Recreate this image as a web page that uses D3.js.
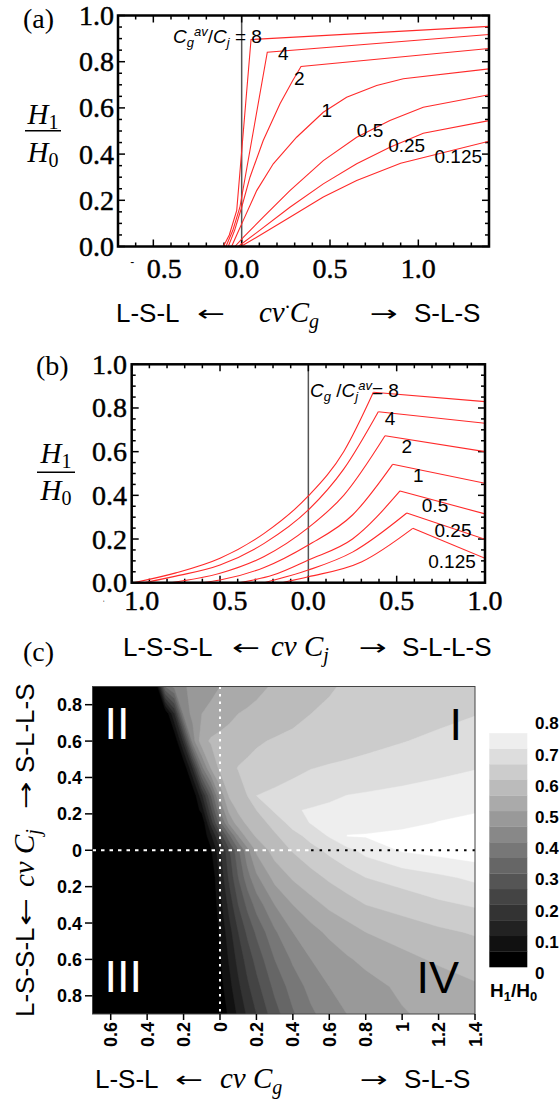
<!DOCTYPE html>
<html>
<head>
<meta charset="utf-8">
<script src="https://cdn.jsdelivr.net/npm/d3@7"></script>
<style>
  body { margin: 0; background: #fff; }
  text { fill: #000; }
  .serif { font-family: "Liberation Serif", "Times New Roman", serif; }
  .sans { font-family: "Liberation Sans", Arial, sans-serif; }
  .tick { stroke: #000; stroke-width: 0.45px; }
</style>
</head>
<body>
<svg id="fig" width="559" height="1099"></svg>
<script>
// ---- panel (a): H1/H0 vs cv.Cg, one curve per Cg_av/Cj ratio
const ratiosA = ['8', '4', '2', '1', '0.5', '0.25', '0.125'];
const curveA8 = [[-0.104, 0], [-0.07, 0.05], [-0.028, 0.156], [0.053, 0.896], [1.4, 0.953]];
const curveA4 = [[-0.089, 0], [-0.05, 0.07], [-0.01, 0.17], [0.145, 0.841], [1.4, 0.918]];
const curveA2 = [[-0.076, 0], [-0.04, 0.07], [0, 0.17], [0.047, 0.3], [0.122, 0.459], [0.217, 0.618], [0.29, 0.72], [0.336, 0.779], [1.4, 0.857]];
const curveA1 = [[-0.057, 0], [-0.025, 0.055], [0.009, 0.113], [0.085, 0.242], [0.179, 0.358], [0.311, 0.473], [0.462, 0.581], [0.594, 0.646], [0.764, 0.697], [0.915, 0.726], [1.4, 0.769]];
const curveA05 = [[-0.038, 0], [0.009, 0.04], [0.122, 0.127], [0.273, 0.242], [0.462, 0.372], [0.651, 0.473], [0.839, 0.545], [1.028, 0.603], [1.4, 0.657]];
const curveA025 = [[-0.02, 0], [0.085, 0.06], [0.273, 0.17], [0.462, 0.271], [0.651, 0.358], [0.839, 0.43], [1.028, 0.49], [1.4, 0.545]];
const curveA0125 = [[-0.005, 0], [0.085, 0.04], [0.273, 0.127], [0.462, 0.214], [0.651, 0.286], [0.9, 0.36], [1.4, 0.456]];

// ---- panel (b): H1/H0 vs cv.Cj, one curve per Cg/Cj_av ratio
const ratiosB = ['8', '4', '2', '1', '0.5', '0.25', '0.125'];
const curveB8 = [[-0.99, 0], [-0.75, 0.045], [-0.5, 0.112], [-0.25, 0.226], [0, 0.397], [0.2, 0.6], [0.368, 0.872], [1, 0.829]];
const curveB4 = [[-0.93, 0], [-0.75, 0.03], [-0.5, 0.081], [-0.25, 0.18], [0, 0.333], [0.2, 0.52], [0.396, 0.783], [1, 0.73]];
const curveB2 = [[-0.78, 0], [-0.5, 0.043], [-0.25, 0.12], [0, 0.252], [0.2, 0.4], [0.434, 0.673], [1, 0.6]];
const curveB1 = [[-0.6, 0], [-0.5, 0.012], [-0.25, 0.07], [0, 0.173], [0.25, 0.31], [0.477, 0.542], [1, 0.455]];
const curveB05 = [[-0.39, 0], [-0.2, 0.035], [0, 0.104], [0.25, 0.2], [0.519, 0.42], [1, 0.315]];
const curveB025 = [[-0.25, 0], [0, 0.058], [0.25, 0.14], [0.557, 0.319], [1, 0.199]];
const curveB0125 = [[-0.15, 0], [0, 0.027], [0.3, 0.095], [0.591, 0.249], [1, 0.112]];

// ---- panel (c): H1/H0, rows = cv.Cj, columns = cv.Cg
const gridCg = [-0.7, -0.4, -0.35, -0.3, -0.25, -0.2, -0.15, -0.1, -0.05, 0, 0.05, 0.1, 0.15, 0.2, 0.3, 0.4, 0.5, 0.6, 0.7, 0.8, 1.0, 1.2, 1.4];
const gridCj = [0.9, 0.75, 0.6, 0.45, 0.3, 0.22, 0.15, 0.08, 0, -0.15, -0.3, -0.45, -0.6, -0.75, -0.9];
const h1h0 = [
  [0, 0, 0, 0.35, 0.42, 0.445, 0.46, 0.474, 0.487, 0.5, 0.51, 0.519, 0.529, 0.538, 0.556, 0.569, 0.583, 0.597, 0.604, 0.609, 0.619, 0.63, 0.64],
  [0, 0, 0, 0, 0.15, 0.417, 0.464, 0.5, 0.512, 0.525, 0.537, 0.55, 0.556, 0.562, 0.575, 0.587, 0.6, 0.605, 0.611, 0.616, 0.627, 0.637, 0.648],
  [0, 0, 0, 0, 0, 0.163, 0.425, 0.533, 0.556, 0.564, 0.572, 0.58, 0.588, 0.595, 0.604, 0.611, 0.617, 0.623, 0.629, 0.635, 0.648, 0.66, 0.672],
  [0, 0, 0, 0, 0, 0, 0.15, 0.38, 0.5, 0.562, 0.586, 0.602, 0.608, 0.614, 0.626, 0.637, 0.649, 0.655, 0.66, 0.666, 0.676, 0.687, 0.698],
  [0, 0, 0, 0, 0, 0, 0, 0.138, 0.3, 0.463, 0.555, 0.577, 0.6, 0.65, 0.66, 0.671, 0.681, 0.692, 0.701, 0.705, 0.713, 0.722, 0.73],
  [0, 0, 0, 0, 0, 0, 0, 0.067, 0.233, 0.4, 0.513, 0.558, 0.579, 0.6, 0.658, 0.696, 0.704, 0.709, 0.713, 0.718, 0.727, 0.736, 0.745],
  [0, 0, 0, 0, 0, 0, 0, 0, 0.167, 0.329, 0.46, 0.527, 0.559, 0.576, 0.617, 0.671, 0.703, 0.71, 0.717, 0.724, 0.738, 0.752, 0.765],
  [0, 0, 0, 0, 0, 0, 0, 0, 0.089, 0.213, 0.338, 0.45, 0.523, 0.557, 0.593, 0.631, 0.668, 0.705, 0.752, 0.754, 0.761, 0.768, 0.775],
  [0, 0, 0, 0, 0, 0, 0, 0, 0.04, 0.14, 0.24, 0.34, 0.433, 0.51, 0.571, 0.604, 0.633, 0.661, 0.687, 0.715, 0.755, 0.768, 0.78],
  [0, 0, 0, 0, 0, 0, 0, 0, 0, 0.11, 0.21, 0.3, 0.379, 0.439, 0.517, 0.556, 0.583, 0.608, 0.629, 0.65, 0.67, 0.69, 0.71],
  [0, 0, 0, 0, 0, 0, 0, 0, 0, 0.08, 0.167, 0.25, 0.313, 0.37, 0.45, 0.5, 0.533, 0.56, 0.58, 0.6, 0.62, 0.64, 0.655],
  [0, 0, 0, 0, 0, 0, 0, 0, 0, 0.057, 0.129, 0.2, 0.26, 0.309, 0.392, 0.45, 0.483, 0.51, 0.53, 0.55, 0.57, 0.59, 0.605],
  [0, 0, 0, 0, 0, 0, 0, 0, 0, 0.044, 0.106, 0.167, 0.22, 0.267, 0.35, 0.408, 0.45, 0.473, 0.495, 0.511, 0.537, 0.557, 0.57],
  [0, 0, 0, 0, 0, 0, 0, 0, 0, 0.03, 0.083, 0.139, 0.19, 0.233, 0.313, 0.372, 0.417, 0.45, 0.467, 0.483, 0.509, 0.527, 0.545],
  [0, 0, 0, 0, 0, 0, 0, 0, 0, 0.01, 0.06, 0.11, 0.158, 0.2, 0.279, 0.344, 0.391, 0.424, 0.451, 0.466, 0.496, 0.514, 0.53]
];
const levels = [0.05, 0.1, 0.15, 0.2, 0.25, 0.3, 0.35, 0.4, 0.45, 0.5, 0.55, 0.6, 0.65, 0.7, 0.75];
const barTicks = [0, 0.1, 0.2, 0.3, 0.4, 0.5, 0.6, 0.7, 0.8];

const curvesA = [curveA8, curveA4, curveA2, curveA1, curveA05, curveA025, curveA0125];
const curvesB = [curveB8, curveB4, curveB2, curveB1, curveB05, curveB025, curveB0125];

const svg = d3.select('#fig');
const red = '#ff2a2a';
const gray = k => { const g = Math.round(255 * k / 15); return 'rgb(' + g + ',' + g + ',' + g + ')'; };

function rich(sel, parts) {
  parts.forEach(function(p) {
    const t = sel.append('tspan').text(p.t);
    if (p.size) t.attr('font-size', p.size);
    if (p.it) t.attr('font-style', 'italic');
    if (p.dy) t.attr('dy', p.dy);
    if (p.cls) t.attr('class', p.cls);
  });
  return sel;
}

// frame with inward ticks on all sides (Mathematica style)
function frame(x, y, zeroLine) {
  const [x0, x1] = x.range(), [y0, y1] = y.range();
  const g = svg.append('g');
  if (zeroLine) {
    g.append('line').attr('x1', x(0)).attr('x2', x(0)).attr('y1', y0).attr('y2', y1)
      .attr('stroke', '#555').attr('stroke-width', 1.5);
  }
  const xMaj = x.ticks(4), yMaj = y.ticks(5);
  const isMaj = (arr, v) => arr.some(m => Math.abs(m - v) < 1e-9);
  const tk = g.append('g').attr('stroke', '#000').attr('stroke-width', 1.5);
  x.ticks(20).forEach(function(v) {
    const L = isMaj(xMaj, v) ? 7 : 4;
    tk.append('line').attr('x1', x(v)).attr('x2', x(v)).attr('y1', y0).attr('y2', y0 - L);
    tk.append('line').attr('x1', x(v)).attr('x2', x(v)).attr('y1', y1).attr('y2', y1 + L);
  });
  y.ticks(20).forEach(function(v) {
    const L = isMaj(yMaj, v) ? 7 : 4;
    tk.append('line').attr('y1', y(v)).attr('y2', y(v)).attr('x1', x0).attr('x2', x0 + L);
    tk.append('line').attr('y1', y(v)).attr('y2', y(v)).attr('x1', x1).attr('x2', x1 - L);
  });
}

function frameBox(x, y) {
  const [x0, x1] = x.range(), [y0, y1] = y.range();
  svg.append('rect').attr('x', x0).attr('y', y1).attr('width', x1 - x0).attr('height', y0 - y1)
    .attr('fill', 'none').attr('stroke', '#000').attr('stroke-width', 2.5);
}

function clip(id, x, y) {
  const [x0, x1] = x.range(), [y0, y1] = y.range();
  svg.append('clipPath').attr('id', id).append('rect')
    .attr('x', x0).attr('y', y1).attr('width', x1 - x0).attr('height', y0 - y1);
}

function yLabels(y, xr) {
  y.ticks(5).forEach(function(v) {
    svg.append('text').attr('class', 'serif tick').attr('font-size', 28)
      .attr('x', xr).attr('y', y(v) + 9.5).attr('text-anchor', 'end').text(v.toFixed(1));
  });
}

function fraction(cx, yNum, yBar, yDen, half) {
  rich(svg.append('text').attr('class', 'serif').attr('font-size', 29).attr('x', cx).attr('y', yNum).attr('text-anchor', 'middle'),
    [{ t: 'H', it: true }, { t: '1', size: 20, dy: 5 }]);
  svg.append('line').attr('x1', cx - half).attr('x2', cx + half).attr('y1', yBar).attr('y2', yBar)
    .attr('stroke', '#000').attr('stroke-width', 1.6);
  rich(svg.append('text').attr('class', 'serif').attr('font-size', 29).attr('x', cx).attr('y', yDen).attr('text-anchor', 'middle'),
    [{ t: 'H', it: true }, { t: '0', size: 20, dy: 5 }]);
}

function axisTitle(g, y, parts) {
  parts.forEach(function(p) {
    const t = g.append('text').attr('x', p.x).attr('y', y).attr('text-anchor', p.anchor || 'start');
    if (p.rich) {
      t.attr('class', 'serif').attr('font-size', 29).attr('font-style', 'italic');
      rich(t, p.rich);
    } else if (p.arrow) {
      t.attr('font-family', '"DejaVu Sans", sans-serif').attr('font-size', 22)
        .attr('textLength', 28).attr('lengthAdjust', 'spacingAndGlyphs').attr('dy', -1).text(p.arrow);
    } else {
      t.attr('class', 'sans').attr('font-size', 26).text(p.t);
    }
  });
}

// ================= panel (a)
const xA = d3.scaleLinear([-0.7, 1.4], [118, 489]);
const yA = d3.scaleLinear([0, 1], [246.5, 15.5]);
clip('clipA', xA, yA);
frame(xA, yA, true);
const lineA = d3.line().x(d => xA(d[0])).y(d => yA(d[1]));
svg.append('g').attr('clip-path', 'url(#clipA)').selectAll('path').data(curvesA).join('path')
  .attr('d', lineA).attr('fill', 'none').attr('stroke', red).attr('stroke-width', 1.1);
frameBox(xA, yA);
yLabels(yA, 114);
xA.ticks(4).forEach(function(v) {
  svg.append('text').attr('class', 'serif tick').attr('font-size', 28).attr('text-anchor', 'middle')
    .attr('x', xA(v) + (v < 0 ? 11 : 0)).attr('y', 278).text(Math.abs(v).toFixed(1));
  if (v < 0) svg.append('text').attr('class', 'sans').attr('font-size', 12).attr('text-anchor', 'middle')
    .attr('x', xA(v) - 21).attr('y', 266).text('-');
});
svg.append('text').attr('class', 'serif').attr('font-size', 28).attr('x', 23).attr('y', 28).text('(a)');
fraction(43, 124, 130.7, 162, 18);

const labelPosA = [null, [283.3, 53.3], [299.3, 78.3], [326.7, 110], [370, 130], [406.7, 145], [458.3, 156.7]];
ratiosA.forEach(function(r, i) {
  if (!labelPosA[i]) return;
  svg.append('text').attr('class', 'sans').attr('font-size', 19).attr('text-anchor', 'middle')
    .attr('x', labelPosA[i][0]).attr('y', labelPosA[i][1]).attr('dy', '0.35em').text(r);
});
rich(svg.append('text').attr('class', 'sans').attr('font-size', 19).attr('x', 173).attr('y', 43), [
  { t: 'C', it: true }, { t: 'g', it: true, size: 13, dy: 4 }, { t: 'av', it: true, size: 13, dy: -11 },
  { t: '/', dy: 7 }, { t: 'C', it: true }, { t: 'j', it: true, size: 13, dy: 4 }, { t: ' = ' + ratiosA[0], dy: -4 }
]);

axisTitle(svg.append('g'), 322, [
  { t: 'L-S-L', x: 116 },
  { arrow: '\u2190', x: 211, anchor: 'middle' },
  { rich: [{ t: 'cv' }, { t: '\u00b7', size: 20, dy: -8 }, { t: 'C', dy: 8 }, { t: 'g', size: 20, dy: 6 }], x: 259 },
  { arrow: '\u2192', x: 384, anchor: 'middle' },
  { t: 'S-L-S', x: 414 }
]);

// ================= panel (b)
const xB = d3.scaleLinear([-1, 1], [131.7, 485]);
const yB = d3.scaleLinear([0, 1], [582.7, 364.3]);
clip('clipB', xB, yB);
frame(xB, yB, true);
const lineRise = d3.line().x(d => xB(d[0])).y(d => yB(d[1])).curve(d3.curveMonotoneX);
const lineFall = d3.line().x(d => xB(d[0])).y(d => yB(d[1]));
const gB = svg.append('g').attr('clip-path', 'url(#clipB)');
curvesB.forEach(function(c) {
  const k = d3.maxIndex(c, d => d[1]);
  gB.append('path').attr('d', lineRise(c.slice(0, k + 1))).attr('fill', 'none').attr('stroke', red).attr('stroke-width', 1.1);
  gB.append('path').attr('d', lineFall(c.slice(k))).attr('fill', 'none').attr('stroke', red).attr('stroke-width', 1.1);
});
frameBox(xB, yB);
yLabels(yB, 127);
xB.ticks(4).forEach(function(v, i) {
  svg.append('text').attr('class', 'serif tick').attr('font-size', 28).attr('text-anchor', 'middle')
    .attr('x', xB(v) + (v < 0 ? 10 : 0)).attr('y', 610).text(Math.abs(v).toFixed(1));
  if (i === 0) svg.append('text').attr('class', 'sans').attr('font-size', 9).attr('text-anchor', 'middle')
    .attr('x', xB(v) - 28).attr('y', 607).text('\u02c8');
});
svg.append('text').attr('class', 'serif').attr('font-size', 28).attr('x', 36).attr('y', 375).text('(b)');
fraction(56, 463, 472.3, 500, 19);

const labelPosB = [null, [390, 418.3], [406.7, 446.7], [418.3, 475], [435, 505], [453, 530.5], [452, 561.7]];
ratiosB.forEach(function(r, i) {
  if (!labelPosB[i]) return;
  svg.append('text').attr('class', 'sans').attr('font-size', 19).attr('text-anchor', 'middle')
    .attr('x', labelPosB[i][0]).attr('y', labelPosB[i][1]).attr('dy', '0.35em').text(r);
});
rich(svg.append('text').attr('class', 'sans').attr('font-size', 19).attr('x', 310).attr('y', 396.5), [
  { t: 'C', it: true }, { t: 'g', it: true, size: 13, dy: 4 }, { t: ' /', dy: -4 },
  { t: 'C', it: true }, { t: 'j', it: true, size: 13, dy: 4 }, { t: 'av', it: true, size: 13, dy: -11 },
  { t: '= ' + ratiosB[0], dy: 7 }
]);

axisTitle(svg.append('g'), 656, [
  { t: 'L-S-S-L', x: 123 },
  { arrow: '\u2190', x: 246, anchor: 'middle' },
  { rich: [{ t: 'cv ' }, { t: 'C' }, { t: 'j', size: 20, dy: 6 }], x: 271 },
  { arrow: '\u2192', x: 373, anchor: 'middle' },
  { t: 'S-L-L-S', x: 402 }
]);

// ================= panel (c)
const xC = d3.scaleLinear([-0.7, 1.4], [92.5, 475]);
const yC = d3.scaleLinear([-0.9, 0.9], [1014, 686.5]);
clip('clipC', xC, yC);
const nx = gridCg.length, ny = gridCj.length;
const ix = d3.scaleLinear(d3.range(nx), gridCg).clamp(true);
const iy = d3.scaleLinear(d3.range(ny), gridCj).clamp(true);
const gridProj = d3.geoTransform({
  point: function(px, py) { this.stream.point(xC(ix(px - 0.5)), yC(iy(py - 0.5))); }
});
const contourPath = d3.geoPath(gridProj);
const bands = d3.contours().size([nx, ny]).thresholds(levels)(h1h0.flat());

const gC = svg.append('g').attr('clip-path', 'url(#clipC)');
gC.append('rect').attr('x', xC(-0.7)).attr('y', yC(0.9)).attr('width', xC(1.4) - xC(-0.7))
  .attr('height', yC(-0.9) - yC(0.9)).attr('fill', '#000');
gC.selectAll('path.band').data(bands).join('path').attr('class', 'band')
  .attr('d', contourPath).attr('fill', (d, i) => gray(i + 1)).attr('stroke', (d, i) => gray(i + 1)).attr('stroke-width', 0.4);

// dotted zero lines
gC.append('line').attr('x1', xC(0)).attr('x2', xC(0)).attr('y1', yC(0.9)).attr('y2', yC(-0.9))
  .attr('stroke', '#fff').attr('stroke-width', 2).attr('stroke-dasharray', '2.5,5');
gC.append('line').attr('x1', xC(-0.7)).attr('x2', xC(0.5)).attr('y1', yC(0)).attr('y2', yC(0))
  .attr('stroke', '#fff').attr('stroke-width', 2).attr('stroke-dasharray', '3.5,5');
gC.append('line').attr('x1', xC(0.5)).attr('x2', xC(1.4)).attr('y1', yC(0)).attr('y2', yC(0))
  .attr('stroke', '#000').attr('stroke-width', 2).attr('stroke-dasharray', '2.5,6');

// quadrant numerals
[['II', 104.5, 739, '#fff'], ['III', 104.5, 992, '#fff'],
 ['I', 449.5, 740, '#000'], ['IV', 416.5, 993, '#000']].forEach(function(q) {
  svg.append('text').attr('class', 'sans').attr('font-size', 45).attr('x', q[1]).attr('y', q[2])
    .style('fill', q[3]).text(q[0]);
});

svg.append('rect').attr('x', xC(-0.7)).attr('y', yC(0.9)).attr('width', xC(1.4) - xC(-0.7))
  .attr('height', yC(-0.9) - yC(0.9)).attr('fill', 'none').attr('stroke', '#444').attr('stroke-width', 1);

const fmtC = v => String(+Math.abs(v).toFixed(1));
yC.ticks(10).forEach(function(v) {
  svg.append('line').attr('x1', 85).attr('x2', xC(-0.7)).attr('y1', yC(v)).attr('y2', yC(v))
    .attr('stroke', '#000').attr('stroke-width', 1.5);
  svg.append('text').attr('class', 'sans').attr('font-size', 18).attr('font-weight', 'bold')
    .attr('x', 82).attr('y', yC(v) + 6.5).attr('text-anchor', 'end').text(fmtC(v));
});
xC.ticks(10).forEach(function(v) {
  svg.append('line').attr('x1', xC(v)).attr('x2', xC(v)).attr('y1', yC(-0.9)).attr('y2', 1020)
    .attr('stroke', '#000').attr('stroke-width', 1.5);
  svg.append('text').attr('class', 'sans').attr('font-size', 18).attr('font-weight', 'bold')
    .attr('transform', 'translate(' + (xC(v) + 6.5) + ',1022) rotate(-90)')
    .attr('text-anchor', 'end').text(fmtC(v));
});
svg.append('text').attr('class', 'serif').attr('font-size', 28).attr('x', 23).attr('y', 661).text('(c)');

axisTitle(svg.append('g'), 1088, [
  { t: 'L-S-L', x: 95 },
  { arrow: '\u2190', x: 189, anchor: 'middle' },
  { rich: [{ t: 'cv ' }, { t: 'C' }, { t: 'g', size: 20, dy: 6 }], x: 220 },
  { arrow: '\u2192', x: 374, anchor: 'middle' },
  { t: 'S-L-S', x: 404 }
]);
axisTitle(svg.append('g').attr('transform', 'translate(34,0) rotate(-90)'), 0, [
  { t: 'L-S-S-L', x: -1017 },
  { arrow: '\u2190', x: -912, anchor: 'middle' },
  { rich: [{ t: 'cv ' }, { t: 'C' }, { t: 'j', size: 20, dy: 6 }], x: -887 },
  { arrow: '\u2192', x: -795, anchor: 'middle' },
  { t: 'S-L-L-S', x: -773 }
]);

// colour bar
const yBar = d3.scaleLinear([0, 0.8], [967, 717.3]);
const barStep = levels[0];
d3.range(16).forEach(function(k) {
  svg.append('rect').attr('x', 489.3).attr('width', 38)
    .attr('y', yBar((k + 1) * barStep)).attr('height', yBar(k * barStep) - yBar((k + 1) * barStep) + 0.3)
    .attr('fill', gray(k));
});
barTicks.forEach(function(v) {
  svg.append('text').attr('class', 'sans').attr('font-size', 17).attr('font-weight', 'bold')
    .attr('x', 535).attr('y', yBar(v) + 12).text(v === 0 ? '0' : v.toFixed(1));
});
rich(svg.append('text').attr('class', 'sans').attr('font-size', 19).attr('font-weight', 'bold').attr('x', 490).attr('y', 997), [
  { t: 'H' }, { t: '1', size: 13, dy: 4 }, { t: '/', dy: -4 }, { t: 'H' }, { t: '0', size: 13, dy: 4 }
]);
</script>
</body>
</html>
